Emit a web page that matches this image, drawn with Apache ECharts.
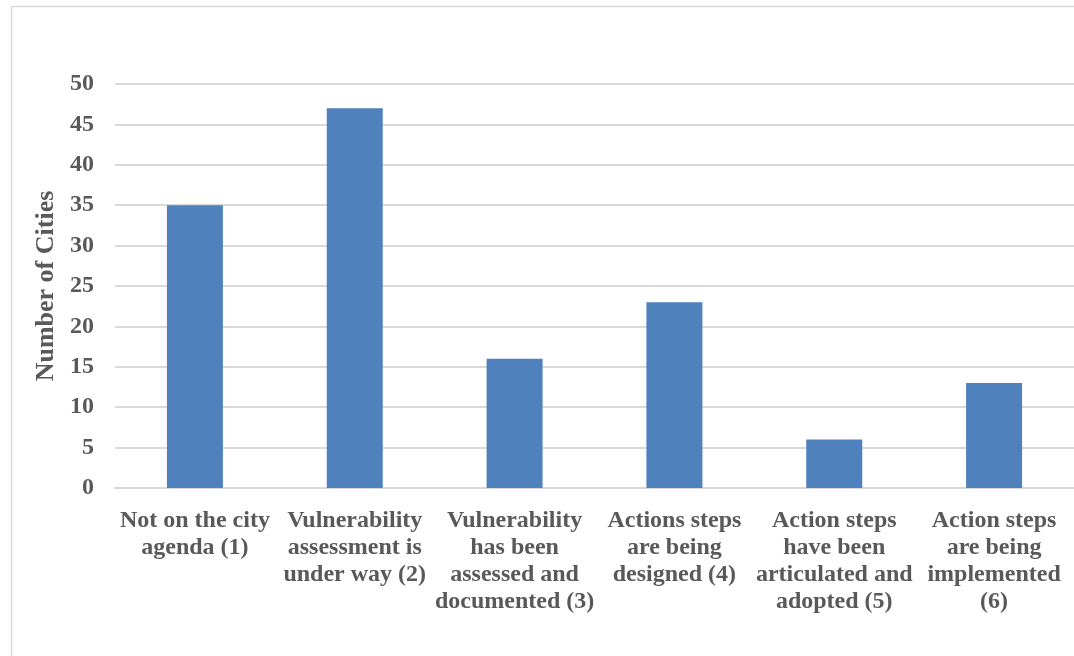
<!DOCTYPE html>
<html>
<head>
<meta charset="utf-8">
<script src="https://cdn.jsdelivr.net/npm/echarts@6/dist/echarts.min.js"></script>
<style>
  html, body { margin: 0; padding: 0; background: #ffffff; }
  #chart { width: 1074px; height: 656px; }
</style>
</head>
<body>
<div id="chart"></div>
<script>
// Adaptation stage reached by each city
const categories = [
  'Not on the city\nagenda (1)',
  'Vulnerability\nassessment is\nunder way (2)',
  'Vulnerability\nhas been\nassessed and\ndocumented (3)',
  'Actions steps\nare being\ndesigned (4)',
  'Action steps\nhave been\narticulated and\nadopted (5)',
  'Action steps\nare being\nimplemented\n(6)'
];
const cityCounts = [35, 47, 16, 23, 6, 13];
const yTicks = [0, 5, 10, 15, 20, 25, 30, 35, 40, 45, 50];

const serif = '"Liberation Serif", "Times New Roman", serif';
const textGray = '#595959';
const lineGray = '#D9D9D9';

const chart = echarts.init(document.getElementById('chart'), null, { renderer: 'canvas' });

chart.setOption({
  animation: false,
  backgroundColor: '#ffffff',
  grid: { left: 115, right: -1, top: 84, bottom: 168, containLabel: false },
  graphic: [
    { type: 'line', shape: { x1: 11.5, y1: 6.5, x2: 11.5, y2: 656 }, style: { stroke: lineGray, lineWidth: 1.5 } },
    { type: 'line', shape: { x1: 11.5, y1: 6.5, x2: 1074, y2: 6.5 }, style: { stroke: lineGray, lineWidth: 1.5 } }
  ],
  xAxis: {
    type: 'category',
    data: categories,
    axisLine: { show: true, lineStyle: { color: lineGray, width: 2 } },
    axisTick: { show: false },
    axisLabel: {
      interval: 0,
      margin: 19,
      fontFamily: serif,
      fontWeight: 'bold',
      fontSize: 24,
      lineHeight: 27,
      color: textGray,
      align: 'center'
    }
  },
  yAxis: {
    type: 'value',
    min: yTicks[0],
    max: yTicks[yTicks.length - 1],
    interval: yTicks[1] - yTicks[0],
    name: 'Number of Cities',
    nameLocation: 'middle',
    nameGap: 54,
    nameTextStyle: {
      fontFamily: serif,
      fontWeight: 'bold',
      fontSize: 26,
      color: textGray
    },
    axisLine: { show: false },
    axisTick: { show: false },
    axisLabel: {
      margin: 21,
      fontFamily: serif,
      fontWeight: 'bold',
      fontSize: 24,
      color: textGray
    },
    splitLine: { show: true, lineStyle: { color: lineGray, width: 2 } }
  },
  series: [{
    type: 'bar',
    data: cityCounts,
    barWidth: 56,
    itemStyle: { color: '#4F81BD' }
  }]
});
</script>
</body>
</html>
